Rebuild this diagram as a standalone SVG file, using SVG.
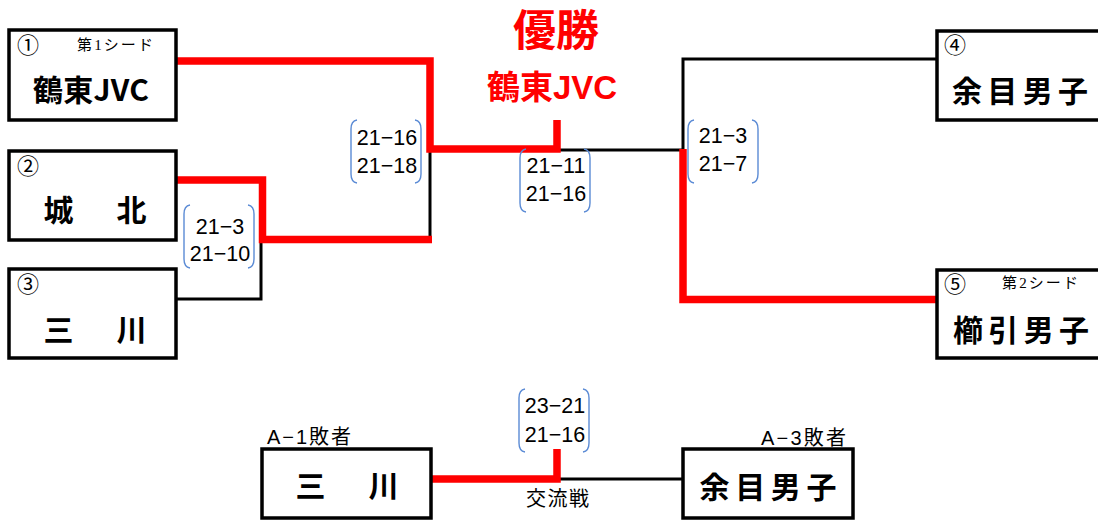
<svg xmlns="http://www.w3.org/2000/svg" width="1098" height="522" viewBox="0 0 1098 522">
<style>
.box{fill:#fff;stroke:#000;stroke-width:3.5}
.red{fill:none;stroke:#f00;stroke-width:7.5;stroke-linejoin:miter;stroke-linecap:butt}
.blk{fill:none;stroke:#000;stroke-width:3}
.brace{fill:none;stroke:#5b8bd5;stroke-width:1.4}
.name{font-family:"Noto Sans CJK JP","Liberation Sans",sans-serif;font-weight:bold;font-size:30px;text-anchor:middle;fill:#000}
.num{font-family:"Noto Sans CJK JP",sans-serif;font-size:22px;fill:#000}
.seed{font-family:"Liberation Serif","Noto Sans CJK JP",serif;font-size:15px;fill:#000}
.score{font-family:"Liberation Sans","Noto Sans CJK JP",sans-serif;font-size:21.5px;text-anchor:middle;fill:#000}
.lbl{font-family:"Liberation Sans","Noto Sans CJK JP",sans-serif;font-size:20px;fill:#000}
.win{font-family:"Liberation Sans","Noto Sans CJK JP",sans-serif;font-weight:bold;fill:#f00;text-anchor:middle}
</style>
<defs>
<path id="br" d="M7,0 Q1,1 1,9 V54 Q1,62 7,63 M65,0 Q71,1 71,9 V54 Q71,62 65,63"/>
</defs>

<g id="connectors">
<path class="blk" d="M430,149 V240"/>
<path class="blk" d="M176,299 H261 V239"/>
<path class="blk" d="M557,150 H683"/>
<path class="blk" d="M937,59 H683 V150"/>
<path class="blk" d="M557,479 H683"/>
<path class="red" d="M176,61 H430 V149 H557 V120"/>
<path class="red" d="M176,180 H262.5 V239.5 H432"/>
<path class="red" d="M683,149 V299.5 H937"/>
<path class="red" d="M431,479 H557 V449"/>
</g>

<g id="node1">
<rect class="box" x="9" y="30" width="167" height="90"/>
<text class="num" x="17" y="53">①</text>
<text class="seed" x="77" y="50" textLength="76">第1シード</text>
<text class="name" x="91" y="101" textLength="116">鶴東JVC</text>
</g>
<g id="node2">
<rect class="box" x="9" y="151" width="167" height="89"/>
<text class="num" x="17" y="174">②</text>
<text class="name" x="95" y="221" textLength="103">城　北</text>
</g>
<g id="node3">
<rect class="box" x="9" y="269" width="167" height="89"/>
<text class="num" x="17" y="292">③</text>
<text class="name" x="95" y="341" textLength="103">三　川</text>
</g>
<g id="node4">
<rect class="box" x="937" y="31" width="200" height="89"/>
<text class="num" x="944" y="53">④</text>
<text class="name" x="1020" y="102" textLength="136">余目男子</text>
</g>
<g id="node5">
<rect class="box" x="937" y="270" width="200" height="88"/>
<text class="num" x="944" y="292">⑤</text>
<text class="seed" x="1002" y="288" textLength="76">第2シード</text>
<text class="name" x="1021" y="341" textLength="136">櫛引男子</text>
</g>
<g id="node6">
<rect class="box" x="262" y="449" width="169" height="69"/>
<text class="name" x="347" y="497" textLength="103">三　川</text>
</g>
<g id="node7">
<rect class="box" x="683" y="449" width="170" height="69"/>
<text class="name" x="768" y="498" font-size="32" textLength="137">余目男子</text>
</g>

<g id="winner">
<text class="win" x="556" y="46" font-size="43">優勝</text>
<text class="win" x="552" y="99" font-size="33">鶴東JVC</text>
</g>

<g id="scores">
<use href="#br" class="brace" x="350" y="120"/>
<text class="score" x="387" y="145">21−16</text>
<text class="score" x="387" y="173">21−18</text>
<use href="#br" class="brace" x="519" y="149"/>
<text class="score" x="556" y="173">21−11</text>
<text class="score" x="556" y="201">21−16</text>
<use href="#br" class="brace" x="183" y="205"/>
<text class="score" x="220" y="234">21−3</text>
<text class="score" x="220" y="261">21−10</text>
<use href="#br" class="brace" x="687" y="120"/>
<text class="score" x="723" y="143">21−3</text>
<text class="score" x="723" y="171">21−7</text>
<use href="#br" class="brace" x="518" y="389"/>
<text class="score" x="555" y="413">23−21</text>
<text class="score" x="555" y="442">21−16</text>
</g>

<g id="labels">
<text class="lbl" x="267" y="444" textLength="84">A−1敗者</text>
<text class="lbl" x="761" y="445" textLength="85">A−3敗者</text>
<text class="lbl" x="526" y="506" font-size="19" textLength="63">交流戦</text>
</g>
</svg>
